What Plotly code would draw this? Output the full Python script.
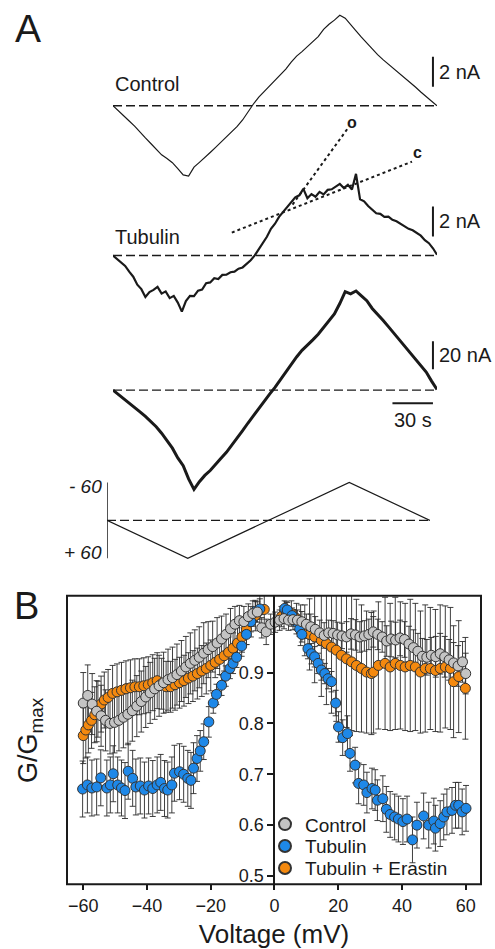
import plotly.graph_objects as go

W, H = 495, 949
FONT = "Liberation Sans, Arial, sans-serif"
INK = "#1a1a1a"

# ---------------- Panel A data (time in s, current in nA) ----------------
t_ctrl = list(range(0, 241, 4))
i_ctrl = [0.00, -0.32, -0.64, -1.02, -1.36, -1.78, -2.15, -2.52, -2.90, -3.28,
          -3.52, -3.80, -4.20, -4.62, -4.70, -4.10, -3.78, -3.48, -3.12, -2.78,
          -2.42, -2.05, -1.75, -1.38, -0.95, -0.38, 0.12, 0.58, 0.95, 1.28,
          1.70, 2.08, 2.45, 2.92, 3.32, 3.62, 3.95, 4.28, 4.62, 5.10,
          5.45, 5.72, 6.05, 5.85, 5.40, 5.00, 4.58, 4.18, 3.78, 3.42,
          3.08, 2.78, 2.48, 2.20, 1.85, 1.55, 1.25, 0.92, 0.62, 0.30, 0.00]

t_tub = list(range(0, 241, 3))
i_tub = [0.00, -0.22, -0.50, -0.70, -1.08, -1.42, -1.95, -2.25, -2.78, -2.45,
         -2.30, -2.10, -2.55, -2.40, -2.85, -2.70, -3.15, -3.75, -3.05, -2.70,
         -2.72, -2.35, -2.28, -1.85, -1.80, -1.52, -1.58, -1.30, -1.28, -1.12,
         -1.08, -0.88, -0.80, -0.55, -0.32, 0.00, 0.42, 0.88, 1.25, 1.78,
         2.12, 2.58, 2.92, 3.28, 3.58, 3.88, 4.02, 4.45, 3.82, 4.10,
         3.92, 4.25, 4.08, 4.38, 4.42, 4.60, 4.78, 4.50, 4.72, 4.40,
         5.45, 3.75, 3.62, 3.30, 3.08, 2.82, 2.78, 2.58, 2.60, 2.38,
         2.28, 2.12, 1.98, 1.78, 1.68, 1.48, 1.32, 1.02, 0.82, 0.48, 0.05]

t_era = list(range(0, 241, 4))
i_era = [0.0, -3.0, -6.0, -9.0, -12.0, -15.5, -18.8, -22.5, -26.2, -30.8,
         -36.0, -41.5, -48.5, -54.0, -63.5, -71.0, -65.5, -61.0, -57.5, -53.5,
         -48.8, -44.5, -39.5, -34.2, -29.0, -23.5, -18.2, -13.0, -7.5, -2.8,
         2.0, 7.5, 12.8, 18.0, 23.8, 28.5, 32.0, 36.0, 40.0, 45.0,
         49.5, 54.5, 62.0, 70.5, 69.0, 71.0, 67.5, 64.0, 58.5, 54.5,
         50.0, 45.5, 40.8, 36.0, 31.5, 27.0, 22.0, 17.5, 13.0, 6.5, 0.5]

# voltage protocol (mV)
t_prot = [0, 60, 180, 240]
v_prot = [0, 60, -60, 0]

# dotted guide lines on the Tubulin trace
o_t, o_i = [133, 174], [3.4, 8.5]
c_t, c_i = [88, 221.5], [1.53, 6.27]

base_t = [0, 242]
SCALE_T = 237
ctrl_bar = [1.27, 3.27]   # 2 nA
tub_bar = [1.27, 3.27]    # 2 nA
era_bar = [15, 35]        # 20 nA
time_bar = [207, 237]     # 30 s
time_bar_y = -9.3

# ---------------- Panel B data ----------------
v_ctrl = [-60.0, -58.6, -57.2, -55.8, -54.4, -53.0, -51.6, -50.2, -48.8, -47.4, -46.0, -44.6, -43.2,
          -41.8, -40.4, -39.0, -37.6, -36.2, -34.8, -33.4, -32.0, -30.6, -29.2, -27.8, -26.4, -25.0,
          -23.6, -22.2, -20.8, -19.4, -18.0, -16.6, -15.2, -13.8, -12.4, -11.0, -9.6, -8.2, -6.8,
          -5.4, -4.0, -2.6, -1.2,
          0.2, 1.6, 3.0, 4.4, 5.8, 7.2, 8.6, 10.0, 11.4, 12.8, 14.2, 15.6, 17.0, 18.4, 19.8, 21.2,
          22.6, 24.0, 25.4, 26.8, 28.2, 29.6, 31.0, 32.4, 33.8, 35.2, 36.6, 38.0, 39.4, 40.8, 42.2,
          43.6, 45.0, 46.4, 47.8, 49.2, 50.6, 52.0, 53.4, 54.8, 56.2, 57.6, 59.0, 60.0]
g_ctrl = [0.840, 0.855, 0.838, 0.824, 0.815, 0.806, 0.800, 0.802, 0.806, 0.812, 0.818, 0.825, 0.834,
          0.843, 0.852, 0.860, 0.868, 0.874, 0.880, 0.886, 0.890, 0.896, 0.903, 0.911, 0.918, 0.924,
          0.930, 0.938, 0.945, 0.951, 0.958, 0.966, 0.975, 0.986, 0.995, 1.002, 1.000, 1.010, 1.016,
          1.019, 0.988, 0.980, 0.995,
          0.999, 1.003, 1.006, 1.003, 1.004, 1.003, 1.000, 0.995, 0.990, 0.985, 0.978, 0.973, 0.978,
          0.977, 0.974, 0.972, 0.970, 0.976, 0.974, 0.970, 0.972, 0.975, 0.980, 0.975, 0.970, 0.962,
          0.966, 0.964, 0.968, 0.965, 0.956, 0.949, 0.942, 0.932, 0.930, 0.934, 0.931, 0.937, 0.931,
          0.925, 0.919, 0.913, 0.921, 0.898]
e_ctrl = [0.06] * 28 + [0.055, 0.05, 0.05, 0.045, 0.04, 0.04, 0.035, 0.03, 0.03, 0.025, 0.025,
                        0.02, 0.02, 0.025, 0.02] + \
         [0.02] * 8 + [0.025] * 8 + [0.03] * 10 + [0.035] * 10 + [0.04] * 8

v_tub = [-60.2, -58.7, -57.3, -55.8, -54.5, -52.6, -51.5, -50.6, -49.2, -48.0, -46.9, -45.9, -44.5,
         -43.5, -42.1, -40.8, -39.5, -38.2, -36.8, -35.7, -34.5, -33.5, -32.2, -31.4, -29.8, -28.5,
         -27.2, -26.2, -25.4, -24.3, -23.3, -22.2, -20.6, -19.2, -18.2, -16.6, -15.3, -14.0, -13.0,
         -11.9, -10.3, -8.8, -7.4, -6.0, -4.6,
         3.2, 4.0, 5.5, 6.8, 7.9, 8.6, 10.5, 11.6, 12.6, 13.7, 14.7, 15.8, 16.8, 17.9, 19.2, 20.1,
         21.4, 22.9, 23.7, 25.3, 26.4, 28.0, 29.0, 30.6, 31.6, 32.3, 34.0, 35.1, 36.3, 37.7, 38.9,
         40.3, 41.6, 43.3, 44.7, 46.8, 48.4, 50.0, 50.5, 52.0, 53.1, 54.1, 55.7, 56.8, 57.8, 58.9, 60.1]
g_tub = [0.671, 0.679, 0.673, 0.675, 0.693, 0.673, 0.679, 0.701, 0.679, 0.673, 0.668, 0.706, 0.692,
         0.675, 0.677, 0.669, 0.677, 0.672, 0.679, 0.684, 0.672, 0.669, 0.679, 0.702, 0.705, 0.700,
         0.692, 0.688, 0.712, 0.731, 0.746, 0.764, 0.803, 0.840, 0.857, 0.875, 0.893, 0.908, 0.918,
         0.930, 0.952, 0.975, 1.000, 1.020, 1.025,
         1.026, 1.023, 1.012, 1.000, 0.986, 0.975, 0.947, 0.937, 0.931, 0.918, 0.905, 0.898, 0.888,
         0.882, 0.840, 0.793, 0.772, 0.780, 0.741, 0.718, 0.682, 0.679, 0.664, 0.672, 0.669, 0.649,
         0.652, 0.631, 0.621, 0.616, 0.612, 0.607, 0.612, 0.571, 0.600, 0.618, 0.600, 0.608, 0.594,
         0.603, 0.616, 0.626, 0.629, 0.639, 0.639, 0.626, 0.633]
e_tub = [0.055] * 28 + [0.05, 0.045, 0.04, 0.035, 0.03] + [0.02] * 12 + \
        [0.015] * 6 + [0.02] * 8 + [0.025, 0.03] + [0.035] * 4 + [0.04] * 6 + [0.045] * 21

v_era = [-60.0, -59.2, -58.4, -57.4, -56.4, -55.4, -54.4, -53.4, -52.2, -50.8, -49.4, -48.0, -46.6,
         -45.2, -43.8, -42.4, -41.0, -39.6, -38.2, -36.8, -35.4, -34.0, -32.6, -31.2, -29.8, -28.4,
         -27.0, -25.6, -24.2, -22.8, -21.4, -20.0, -18.6, -17.2, -15.8, -14.4, -13.0, -11.6, -10.2,
         -8.8, -7.4, -6.0, -4.6, -3.2,
         2.2, 3.7, 5.3, 6.9, 8.2, 9.5, 11.0, 12.6, 14.7, 16.3, 17.9, 19.4, 21.0, 22.6, 24.2, 25.7,
         27.3, 28.9, 30.4, 31.1, 32.6, 34.7, 36.3, 37.9, 39.5, 41.0, 42.6, 44.2, 45.8, 47.3, 48.9,
         50.5, 52.0, 53.6, 55.2, 56.2, 57.8, 59.9]
g_era = [0.776, 0.787, 0.797, 0.806, 0.817, 0.828, 0.838, 0.846, 0.851, 0.859, 0.862, 0.865, 0.868,
         0.870, 0.872, 0.872, 0.874, 0.876, 0.880, 0.884, 0.878, 0.872, 0.872, 0.876, 0.880, 0.884,
         0.889, 0.893, 0.898, 0.903, 0.908, 0.914, 0.920, 0.926, 0.933, 0.940, 0.948, 0.958, 0.970,
         0.985, 1.000, 1.012, 1.022, 1.024,
         1.010, 1.019, 1.016, 1.006, 0.993, 0.983, 0.975, 0.970, 0.963, 0.957, 0.950, 0.944, 0.934,
         0.927, 0.921, 0.914, 0.908, 0.901, 0.898, 0.901, 0.914, 0.918, 0.911, 0.918, 0.914, 0.911,
         0.914, 0.911, 0.901, 0.908, 0.908, 0.904, 0.908, 0.911, 0.908, 0.882, 0.892, 0.869]
e_era = [0.055] * 20 + [0.05] * 12 + [0.03] * 12 + \
        [0.02, 0.02, 0.025, 0.03, 0.04, 0.05, 0.07, 0.09, 0.11, 0.12, 0.13, 0.14, 0.14, 0.135,
         0.135, 0.13, 0.125, 0.12, 0.12, 0.12, 0.125, 0.13, 0.125, 0.13, 0.125, 0.125, 0.13, 0.125,
         0.12, 0.125, 0.12, 0.12, 0.125, 0.12, 0.12, 0.11, 0.11, 0.10]

x_ticks = [-60, -40, -20, 0, 20, 40, 60]
y_ticks = [0.5, 0.6, 0.7, 0.8, 0.9]

C_GRAY, C_BLUE, C_ORANGE = "#c4c4c4", "#1e88e8", "#f4890f"


# ---------------- layout helpers (pixel placement) ----------------
def dx(p0, p1):
    return [p0 / W, p1 / W]


def dy(ptop, pbot):
    return [1 - pbot / H, 1 - ptop / H]


def ry(ptop, pbot, pzero, ppu):
    return [(pzero - pbot) / ppu, (pzero - ptop) / ppu]


fig = go.Figure()

# Panel A traces
fig.add_trace(go.Scatter(x=t_ctrl, y=i_ctrl, mode="lines", line=dict(color=INK, width=1.2),
                         xaxis="x2", yaxis="y2", showlegend=False, hoverinfo="skip"))
fig.add_trace(go.Scatter(x=t_tub, y=i_tub, mode="lines", line=dict(color=INK, width=2.2),
                         xaxis="x2", yaxis="y3", showlegend=False, hoverinfo="skip"))
fig.add_trace(go.Scatter(x=o_t, y=o_i, mode="lines", line=dict(color=INK, width=2, dash="dot"),
                         xaxis="x2", yaxis="y3", showlegend=False, hoverinfo="skip"))
fig.add_trace(go.Scatter(x=c_t, y=c_i, mode="lines", line=dict(color=INK, width=2, dash="dot"),
                         xaxis="x2", yaxis="y3", showlegend=False, hoverinfo="skip"))
fig.add_trace(go.Scatter(x=t_era, y=i_era, mode="lines", line=dict(color=INK, width=3),
                         xaxis="x2", yaxis="y4", showlegend=False, hoverinfo="skip"))
fig.add_trace(go.Scatter(x=t_prot, y=v_prot, mode="lines", line=dict(color=INK, width=1.2),
                         xaxis="x3", yaxis="y5", showlegend=False, hoverinfo="skip"))

# Panel B: error bars first (beneath all markers), then markers
err_style = dict(type="data", color="#2a2a2a", thickness=0.9, width=3)
for vv, gg, ee in ((v_era, g_era, e_era), (v_tub, g_tub, e_tub), (v_ctrl, g_ctrl, e_ctrl)):
    fig.add_trace(go.Scatter(x=vv, y=gg, mode="markers", marker=dict(size=1, opacity=0),
                             error_y=dict(array=ee, **err_style), showlegend=False, hoverinfo="skip"))

marker_line = dict(color="#333333", width=1)
fig.add_trace(go.Scatter(x=v_era, y=g_era, mode="markers", name="Tubulin + Erastin", legend="legend3",
                         marker=dict(color=C_ORANGE, size=10, line=marker_line)))
fig.add_trace(go.Scatter(x=v_tub, y=g_tub, mode="markers", name="Tubulin", legend="legend2",
                         marker=dict(color=C_BLUE, size=10, line=marker_line)))
fig.add_trace(go.Scatter(x=v_ctrl, y=g_ctrl, mode="markers", name="Control", legend="legend",
                         marker=dict(color=C_GRAY, size=10, line=marker_line)))

# axes geometry
xB_dom = dx(67, 481)
xB_rng = [-65.1, 64.8]
yB_dom = dy(597, 886)
yB_rng = [0.484, 1.051]
y_pos = xB_dom[0] + (0 - xB_rng[0]) / (xB_rng[1] - xB_rng[0]) * (xB_dom[1] - xB_dom[0])


def leg(center_px):
    return dict(x=265 / W, y=1 - center_px / H, xanchor="left", yanchor="middle",
                bgcolor="rgba(0,0,0,0)", font=dict(size=19, color=INK, family=FONT),
                itemsizing="constant")


hidden = dict(visible=False, showgrid=False, zeroline=False, fixedrange=True)
fig.update_layout(
    width=W, height=H, autosize=False,
    margin=dict(l=0, r=0, t=0, b=0),
    paper_bgcolor="white", plot_bgcolor="rgba(0,0,0,0)",
    font=dict(family=FONT, color=INK, size=18),
    xaxis=dict(domain=xB_dom, range=xB_rng, tickvals=x_ticks, ticks="outside", ticklen=5,
               tickwidth=1.5, tickcolor=INK, showline=False, showgrid=False, zeroline=False,
               tickfont=dict(size=18), anchor="y",
               title=dict(text="Voltage (mV)", font=dict(size=26), standoff=10)),
    yaxis=dict(domain=yB_dom, range=yB_rng, tickvals=y_ticks, ticktext=[f"{v:.1f}" for v in y_ticks],
               ticks="outside", ticklen=6, tickwidth=1.5, tickcolor=INK, showline=True,
               linecolor=INK, linewidth=2, showgrid=False, zeroline=False,
               anchor="free", position=y_pos, tickfont=dict(size=18)),
    xaxis2=dict(domain=dx(113, 437), range=[0, 240], anchor="y2", **hidden),
    yaxis2=dict(domain=dy(5, 182), range=ry(5, 182, 106, 15), anchor="x2", **hidden),
    yaxis3=dict(domain=dy(110, 325), range=ry(110, 325, 256, 15), anchor="x2", **hidden),
    yaxis4=dict(domain=dy(270, 505), range=ry(270, 505, 391, 1.4), anchor="x2", **hidden),
    xaxis3=dict(domain=dx(107, 430), range=[0, 240], anchor="y5", **hidden),
    yaxis5=dict(domain=dy(468, 572), range=[(572 - 521.5) / 0.633, -(521.5 - 468) / 0.633],
                anchor="x3", **hidden),
    legend=leg(826),
    legend2=leg(848),
    legend3=leg(870),
    showlegend=True,
)

shapes = []
dash_base = dict(color=INK, width=1.4, dash="9px,4px")
for yr in ("y2", "y3", "y4"):
    shapes.append(dict(type="line", xref="x2", yref=yr, x0=base_t[0], x1=base_t[1], y0=0, y1=0,
                       line=dash_base))
shapes.append(dict(type="line", xref="x3", yref="y5", x0=0, x1=base_t[1], y0=0, y1=0, line=dash_base))
shapes.append(dict(type="line", xref="x3", yref="y5", x0=0, x1=0, y0=-60, y1=60,
                   line=dict(color=INK, width=1.5)))
bar = dict(color=INK, width=2)
shapes.append(dict(type="line", xref="x2", yref="y2", x0=SCALE_T, x1=SCALE_T,
                   y0=ctrl_bar[0], y1=ctrl_bar[1], line=bar))
shapes.append(dict(type="line", xref="x2", yref="y3", x0=SCALE_T, x1=SCALE_T,
                   y0=tub_bar[0], y1=tub_bar[1], line=bar))
shapes.append(dict(type="line", xref="x2", yref="y4", x0=SCALE_T, x1=SCALE_T,
                   y0=era_bar[0], y1=era_bar[1], line=bar))
shapes.append(dict(type="line", xref="x2", yref="y4", x0=time_bar[0], x1=time_bar[1],
                   y0=time_bar_y, y1=time_bar_y, line=bar))
shapes.append(dict(type="rect", xref="x domain", yref="y domain", x0=0, x1=1, y0=0, y1=1,
                   line=dict(color=INK, width=2)))
fig.update_layout(shapes=shapes)

ann = []
txt = dict(showarrow=False, font=dict(size=20, color=INK, family=FONT))
ann.append(dict(text="A", xref="paper", yref="paper", x=13 / W, y=1 - 29 / H, xanchor="left",
                yanchor="middle", showarrow=False, font=dict(size=39, color=INK, family=FONT)))
ann.append(dict(text="B", xref="paper", yref="paper", x=12 / W, y=1 - 607 / H, xanchor="left",
                yanchor="middle", showarrow=False, font=dict(size=38, color=INK, family=FONT)))
ann.append(dict(text="Control", xref="x2", yref="y2", x=0, y=1.45, xanchor="left", yanchor="middle", **txt))
ann.append(dict(text="Tubulin", xref="x2", yref="y3", x=0, y=1.25, xanchor="left", yanchor="middle", **txt))
ann.append(dict(text="Tubulin + Erastin", xref="x2", yref="y4", x=-4, y=13, xanchor="left",
                yanchor="middle", **txt))
ann.append(dict(text="2 nA", xref="x2", yref="y2", x=SCALE_T, y=sum(ctrl_bar) / 2, xanchor="left",
                xshift=4, yanchor="middle", **txt))
ann.append(dict(text="2 nA", xref="x2", yref="y3", x=SCALE_T, y=sum(tub_bar) / 2, xanchor="left",
                xshift=4, yanchor="middle", **txt))
ann.append(dict(text="20 nA", xref="x2", yref="y4", x=SCALE_T, y=sum(era_bar) / 2, xanchor="left",
                xshift=4, yanchor="middle", **txt))
ann.append(dict(text="30 s", xref="x2", yref="y4", x=sum(time_bar) / 2, y=time_bar_y, xanchor="center",
                yanchor="top", yshift=-4, **txt))
ann.append(dict(text="o", xref="x2", yref="y3", x=o_t[1] + 3, y=o_i[1] + 0.4, xanchor="center",
                yanchor="middle", showarrow=False,
                font=dict(size=16, color=INK, family=FONT, weight="bold")))
ann.append(dict(text="c", xref="x2", yref="y3", x=c_t[1] + 4, y=c_i[1] + 0.6, xanchor="center",
                yanchor="middle", showarrow=False,
                font=dict(size=16, color=INK, family=FONT, weight="bold")))
ann.append(dict(text="<i>- 60</i>", xref="x3", yref="y5", x=0, y=-60, xanchor="right", xshift=-3,
                yanchor="middle", yshift=-4, showarrow=False, font=dict(size=19, color=INK, family=FONT)))
ann.append(dict(text="<i>+ 60</i>", xref="x3", yref="y5", x=0, y=60, xanchor="right", xshift=-3,
                yanchor="middle", yshift=6, showarrow=False, font=dict(size=19, color=INK, family=FONT)))
ann.append(dict(text="G/G<sub>max</sub>", xref="paper", yref="paper", x=30 / W,
                y=(yB_dom[0] + yB_dom[1]) / 2, textangle=-90, xanchor="center", yanchor="middle",
                showarrow=False, font=dict(size=27, color=INK, family=FONT)))
fig.update_layout(annotations=ann)

fig.write_html("out.html", config={"displayModeBar": False},
               post_script="document.body.style.margin='0';document.body.style.overflow='hidden';")
